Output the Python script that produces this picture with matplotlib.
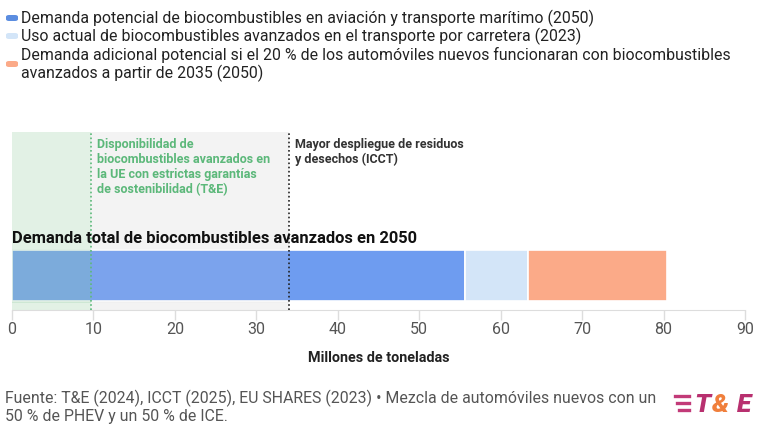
import matplotlib.pyplot as plt
from matplotlib.patches import FancyBboxPatch

plt.rcParams['font.family'] = ['Roboto', 'DejaVu Sans']

# data (millions of tonnes)
segments = ['Demanda potencial de biocombustibles en aviación y transporte marítimo (2050)',
            'Uso actual de biocombustibles avanzados en el transporte por carretera (2023)',
            'Demanda adicional potencial si el 20 % de los automóviles nuevos funcionaran con biocombustibles\navanzados a partir de 2035 (2050)']
values = [55.6, 7.8, 17.0]
colors = ['#6e9cf0', '#d3e5f8', '#fbaa88']
te_supply = 9.7     # T&E sustainable availability
icct_supply = 34.0  # ICCT wastes and residues
xticks = [0, 10, 20, 30, 40, 50, 60, 70, 80, 90]

fig = plt.figure(figsize=(7.6, 4.27), dpi=100)
W, H = 760, 427


def fx(px):
    return px / W


def fy(py):
    return 1 - py / H


ax = fig.add_axes([fx(12), fy(311), fx(733), 178 / H])
ax.set_xlim(0, 90)
ax.set_ylim(-0.676, 2.814)

# stacked bar
left = 0
for v, c in zip(values, colors):
    ax.barh(0, v, left=left, height=1, color=c, edgecolor='white', linewidth=1.2, zorder=2)
    left += v

# shaded availability regions (background + light tint over the bar)
ax.axvspan(0, te_supply, color='#e2f1e5', zorder=1, lw=0)
ax.axvspan(te_supply, icct_supply, color='#f3f3f3', zorder=1, lw=0)
ax.axvspan(0, te_supply, ymin=0.04, ymax=0.34, color='#9fd0ad', alpha=0.3, zorder=3, lw=0)
ax.axvspan(te_supply, icct_supply, ymin=0.04, ymax=0.34, color='#dddddd', alpha=0.12, zorder=3, lw=0)
ax.axvline(te_supply, color='#5cb87a', ls=(0, (1, 1.5)), lw=1.2, zorder=4)
ax.axvline(icct_supply, color='#222222', ls=(0, (1, 1.5)), lw=1.2, zorder=4)

ax.text(te_supply + 0.7, 2.72, 'Disponibilidad de\nbiocombustibles avanzados en\nla UE con estrictas garantías\nde sostenibilidad (T&E)',
        color='#5cb87a', fontsize=9.0, fontweight='bold', va='top', ha='left', linespacing=1.2, zorder=5)
ax.text(icct_supply + 0.7, 2.72, 'Mayor despliegue de residuos\ny desechos (ICCT)',
        color='#333333', fontsize=9.0, fontweight='bold', va='top', ha='left', linespacing=1.2, zorder=5)

ax.text(0, 0.6, 'Demanda total de biocombustibles avanzados en 2050', fontsize=11.9,
        fontweight='bold', color='#111111', ha='left', va='bottom', zorder=5)

for s in ['top', 'right', 'left']:
    ax.spines[s].set_visible(False)
ax.spines['bottom'].set_color('#dddddd')
ax.set_yticks([])
ax.set_xticks(xticks)
ax.tick_params(axis='x', colors='#dddddd', length=7, width=1, labelcolor='#555555', labelsize=11.5, pad=1)
ax.set_xlabel('Millones de toneladas', fontsize=10.4, fontweight='bold', color='#222222', labelpad=10)

# legend
leg_y = [19, 37, 56]
for lab, c, py in zip(segments, colors, leg_y):
    n = lab.count('\n')
    sw_y = py + 9 * n
    fig.patches.append(FancyBboxPatch((fx(6), fy(sw_y + 3)), fx(12), 6 / H,
                                      boxstyle='round,pad=0,rounding_size=0.004',
                                      transform=fig.transFigure, color=c if c != '#6e9cf0' else '#5b8de0',
                                      lw=0))
    fig.text(fx(21), fy(py - 9), lab, fontsize=11.4, color='#222222', ha='left', va='top',
             linespacing=1.12)

# footer
fig.text(fx(5), fy(390), 'Fuente: T&E (2024), ICCT (2025), EU SHARES (2023) • Mezcla de automóviles nuevos con un\n50 % de PHEV y un 50 % de ICE.',
         fontsize=11.4, color='#555555', ha='left', va='top', linespacing=1.12)

# logo
for i, w in enumerate([14, 12, 10]):
    fig.add_artist(plt.Line2D([fx(689 - w), fx(689)], [fy(397 + i * 7), fy(397 + i * 7)],
                              color='#c23a78', lw=2.4, transform=fig.transFigure))
for ch, px, c in [('T', 702, '#b8306f'), ('&', 721, '#f07f3c'), ('E', 744, '#b8306f')]:
    fig.text(fx(px), fy(405), ch, fontsize=19, fontweight='heavy', style='italic', color=c,
             va='center', ha='center')

fig.savefig('out.png', dpi=100)
